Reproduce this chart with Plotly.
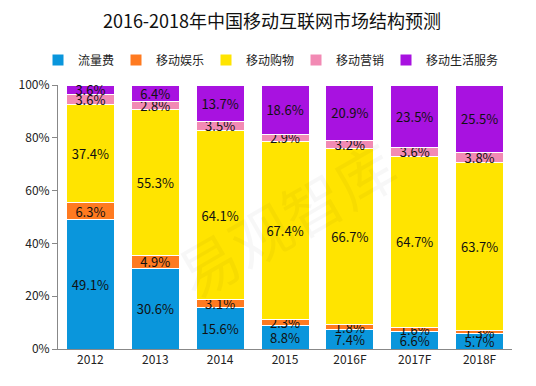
import plotly.graph_objects as go

categories = ["2012", "2013", "2014", "2015", "2016F", "2017F", "2018F"]
series_names = ["流量费", "移动娱乐", "移动购物", "移动营销", "移动生活服务"]
traffic = [49.1, 30.6, 15.6, 8.8, 7.4, 6.6, 5.7]
entertainment = [6.3, 4.9, 3.1, 2.3, 1.8, 1.6, 1.3]
shopping = [37.4, 55.3, 64.1, 67.4, 66.7, 64.7, 63.7]
marketing = [3.6, 2.8, 3.5, 2.9, 3.2, 3.6, 3.8]
life_services = [3.6, 6.4, 13.7, 18.6, 20.9, 23.5, 25.5]
y_ticks = [0, 20, 40, 60, 80, 100]

series_values = [traffic, entertainment, shopping, marketing, life_services]
colors = ["#0A96DC", "#FF7A20", "#FFE400", "#F28AB4", "#A812E0"]

font_family = "Noto Sans CJK SC, Noto Sans, sans-serif"

W, H = 528, 378  # page body has an 8px default margin

# left edge (px, figure coords) of each legend entry
legend_left = [30, 108, 198, 288, 378]

fig = go.Figure()
legend_layouts = {}
for i, (name, vals, col) in enumerate(zip(series_names, series_values, colors)):
    lname = "legend" if i == 0 else f"legend{i+1}"
    fig.add_trace(go.Bar(
        x=categories, y=vals, name=name,
        marker=dict(color=col, line=dict(color="white", width=1)),
        text=[f"{v:.1f}%" for v in vals],
        textposition="inside", insidetextanchor="middle",
        textfont=dict(color="#111111", size=13, family=font_family),
        constraintext="none",
        hoverinfo="skip",
        legend=lname,
    ))
    legend_layouts[lname] = dict(
        orientation="h", xref="container", yref="container",
        x=legend_left[i] / W, xanchor="left", y=1 - 52 / H, yanchor="middle",
        font=dict(size=12, family=font_family, color="#222222"),
        bgcolor="rgba(0,0,0,0)", borderwidth=0, itemwidth=30,
    )

fig.update_layout(
    barmode="stack",
    bargap=0.26,
    width=W, height=H,
    margin=dict(l=50, r=24, t=77, b=37, autoexpand=False),
    paper_bgcolor="white", plot_bgcolor="white",
    font=dict(family=font_family, color="#222222", size=12),
    title=dict(text="2016-2018年中国移动互联网市场结构预测", x=0.5, xanchor="center",
               y=1 - 14/H, yanchor="middle",
               font=dict(size=18, color="#111111", family=font_family)),
    uniformtext=dict(minsize=13, mode="show"),
    showlegend=True,
    **legend_layouts,
)
fig.update_xaxes(showline=True, linecolor="#888888", linewidth=1, ticks="",
                 tickfont=dict(size=12, color="#222222"), showgrid=False, automargin=False)
fig.update_yaxes(range=[0, 100], tickvals=y_ticks, ticktext=[f"{t}%" for t in y_ticks],
                 showline=True, linecolor="#888888", linewidth=1, ticks="outside",
                 ticklen=5, tickcolor="#888888", showgrid=False, automargin=False,
                 tickfont=dict(size=12, color="#222222"))

fig.add_annotation(text="易观智库", x=0.5, y=0.5, xref="paper", yref="paper",
                   showarrow=False, textangle=-30,
                   font=dict(size=60, color="rgba(0,0,0,0.03)", family=font_family))

fig.write_html("out.html")
